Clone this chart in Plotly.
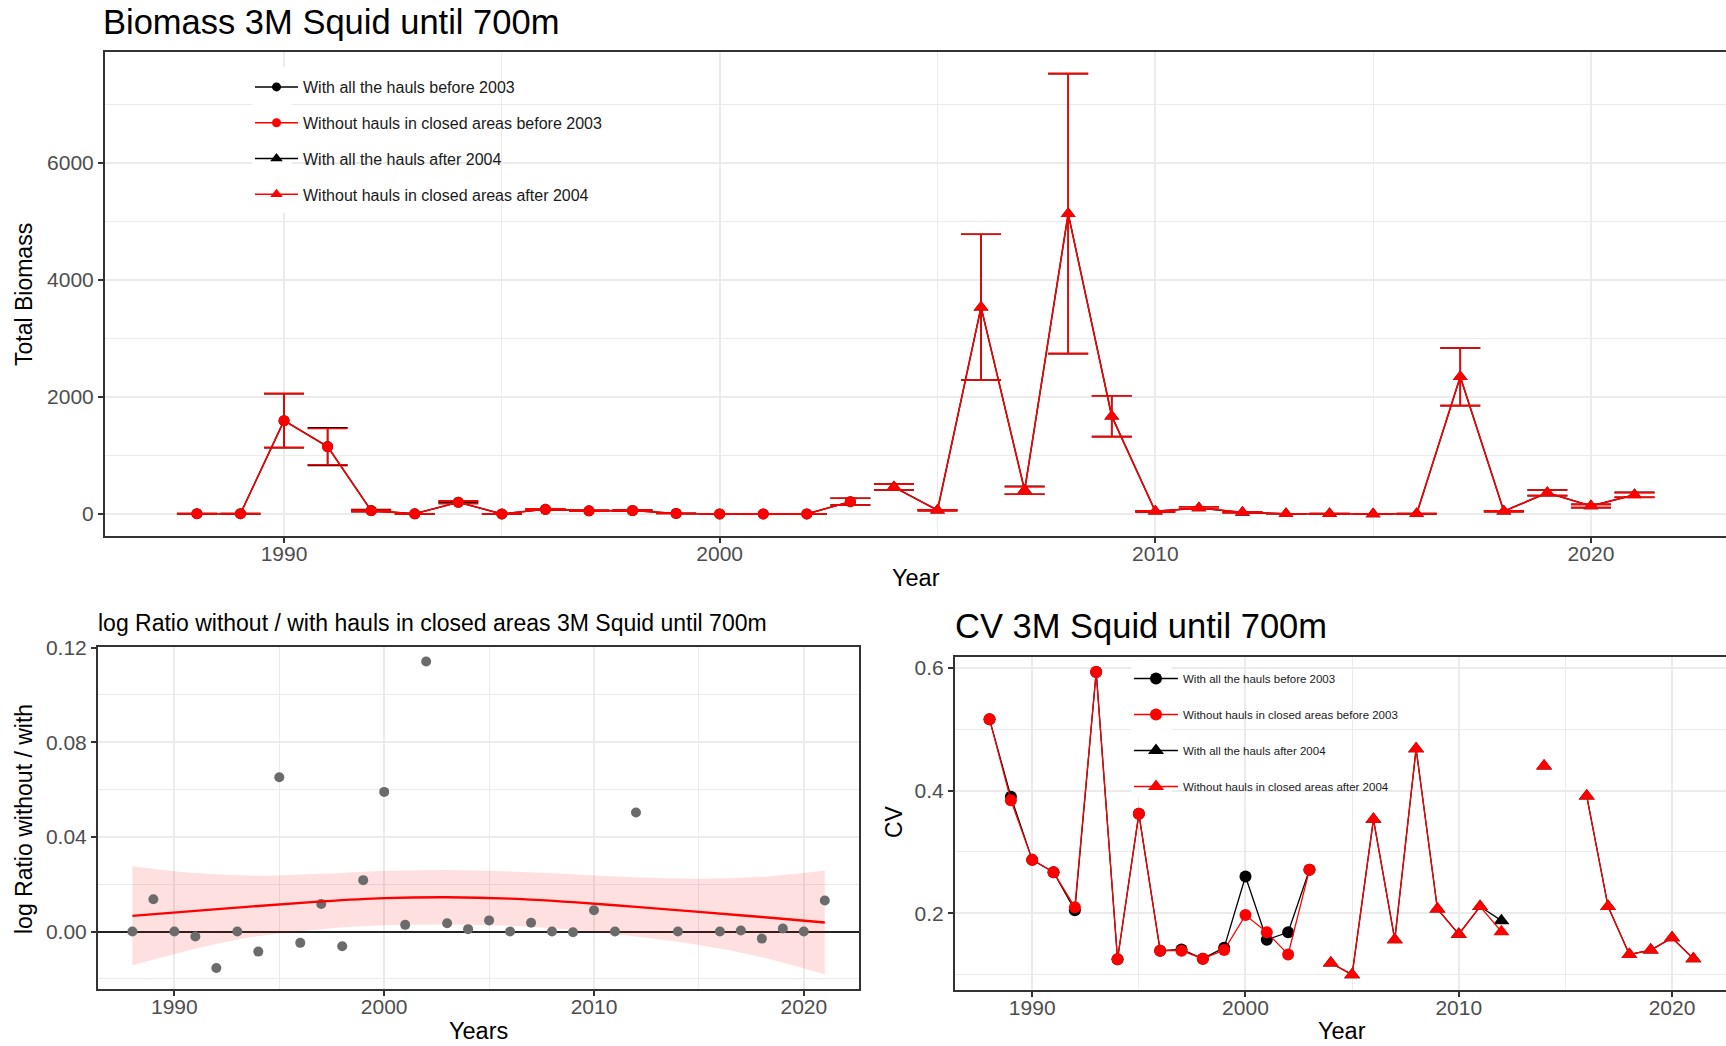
import plotly.graph_objects as go

W, H = 1726, 1046
FONT = "Liberation Sans, Arial, sans-serif"

# ---------------- data ----------------
years_pre = [1988, 1989, 1990, 1991, 1992, 1993, 1994, 1995, 1996, 1997, 1998, 1999, 2000, 2001, 2002, 2003]
years_post = [2004, 2005, 2006, 2007, 2008, 2009, 2010, 2011, 2012, 2013, 2014, 2015, 2016, 2017, 2018, 2019, 2020, 2021]

# Total biomass (without hauls in closed areas = red, with all hauls = black)
bio_without_pre = [5, 5, 1596, 1151, 57, 3, 200, 2, 80, 55, 60, 10, 2, 2, 2, 211]
err_without_pre = [3, 2, 462, 310, 12, 2, 25, 1, 11, 8, 8, 1, 0, 0, 0, 57]
bio_with_pre = [5, 5, 1596, 1153, 58, 3, 202, 2, 80, 55, 60, 10, 2, 2, 2, 211]
err_with_pre = [3, 2, 462, 322, 18, 2, 4, 1, 11, 8, 8, 1, 0, 0, 0, 57]

bio_without_post = [460, 65, 3536, 402, 5134, 1672, 45, 103, 28, 5, 5, 2, 5, 2345, 48, 362, 137, 325]
err_without_post = [50, 7, 1245, 65, 2393, 350, 8, 22, 5, 0, 2, 0, 2, 493, 8, 48, 28, 40]
bio_with_post = [460, 65, 3536, 405, 5134, 1672, 45, 103, 27, 5, 5, 2, 5, 2345, 48, 362, 137, 328]
err_with_post = [50, 7, 1245, 68, 2393, 350, 8, 22, 5, 0, 2, 0, 2, 493, 8, 48, 28, 42]

# CV
cv_without_pre = [0.516, 0.384, 0.287, 0.267, 0.210, 0.593, 0.125, 0.362, 0.139, 0.139, 0.126, 0.140, 0.197, 0.169, 0.133, 0.271]
cv_with_pre = [0.516, 0.390, 0.287, 0.267, 0.205, 0.593, 0.125, 0.362, 0.139, 0.141, 0.126, 0.144, 0.260, 0.157, 0.169, 0.271]
cv_without_post = [0.119, 0.100, 0.353, 0.157, 0.468, 0.207, 0.166, 0.211, 0.170, None, 0.440, None, 0.391, 0.211, 0.133, 0.140, 0.160, 0.126]
cv_with_post = [0.119, 0.100, 0.353, 0.157, 0.468, 0.207, 0.166, 0.211, 0.188, None, 0.440, None, 0.391, 0.211, 0.133, 0.140, 0.160, 0.126]

# log ratio without / with
ratio_years = [1988, 1989, 1990, 1991, 1992, 1993, 1994, 1995, 1996, 1997, 1998, 1999, 2000, 2001, 2002, 2003,
               2004, 2005, 2006, 2007, 2008, 2009, 2010, 2011, 2012, 2014, 2016, 2017, 2018, 2019, 2020, 2021]
ratio_values = [0.0000, 0.0136, 0.0000, -0.0021, -0.0154, 0.0000, -0.0085, 0.0652, -0.0048, 0.0116, -0.0062, 0.0217,
                0.0590, 0.0028, 0.1141, 0.0035, 0.0010, 0.0047, 0.0000, 0.0037, 0.0000, -0.0003, 0.0090, 0.0000,
                0.0503, 0.0000, 0.0000, 0.0004, -0.0030, 0.0013, 0.0000, 0.0131]

# smoother
smooth_years = [1988, 1991, 1994, 1997, 2000, 2003, 2006, 2009, 2012, 2015, 2018, 2021]
smooth_mid = [0.0066, 0.0087, 0.0108, 0.0127, 0.0141, 0.0145, 0.0139, 0.0124, 0.0104, 0.0083, 0.0061, 0.0038]
smooth_upper = [0.0276, 0.0247, 0.0236, 0.0244, 0.0256, 0.0260, 0.0254, 0.0242, 0.0229, 0.0223, 0.0231, 0.0258]
smooth_lower = [-0.0144, -0.0073, -0.0020, 0.0010, 0.0026, 0.0030, 0.0024, 0.0006, -0.0021, -0.0057, -0.0109, -0.0182]

legend_names = ["With all the hauls before 2003", "Without hauls in closed areas before 2003",
                "With all the hauls after 2004", "Without hauls in closed areas after 2004"]

BLACK = "#000000"
RED = "#FF0000"

fig = go.Figure()

# ---------------- legends (dummy entries) ----------------
leg_specs = [(BLACK, "circle"), (RED, "circle"), (BLACK, "triangle-up"), (RED, "triangle-up")]
for i, (name, (col, sym)) in enumerate(zip(legend_names, leg_specs)):
    fig.add_trace(go.Scatter(x=[None], y=[None], mode="lines+markers", name=name,
                             line=dict(color=col, width=1.5),
                             marker=dict(color=col, symbol=sym, size=9 if sym == "circle" else 11),
                             legend="legend", legendgroup=f"a{i}", xaxis="x", yaxis="y"))
for i, (name, (col, sym)) in enumerate(zip(legend_names, leg_specs)):
    fig.add_trace(go.Scatter(x=[None], y=[None], mode="lines+markers", name=name,
                             line=dict(color=col, width=1.5),
                             marker=dict(color=col, symbol=sym, size=12 if sym == "circle" else 14),
                             legend="legend2", legendgroup=f"b{i}", xaxis="x3", yaxis="y3"))

# ---------------- top panel: biomass ----------------
def bio_trace(xs, ys, es, col, sym, size):
    return go.Scatter(x=xs, y=ys, mode="lines+markers", showlegend=False,
                      line=dict(color=col, width=1.5),
                      marker=dict(color=col, symbol=sym, size=size),
                      error_y=dict(type="data", array=es, symmetric=True, color=col,
                                   thickness=1.6, width=20),
                      xaxis="x", yaxis="y")

fig.add_trace(bio_trace(years_pre, bio_with_pre, err_with_pre, BLACK, "circle", 11))
fig.add_trace(bio_trace(years_post, bio_with_post, err_with_post, BLACK, "triangle-up", 13))
fig.add_trace(bio_trace(years_pre, bio_without_pre, err_without_pre, RED, "circle", 11))
fig.add_trace(bio_trace(years_post, bio_without_post, err_without_post, RED, "triangle-up", 13))

# ---------------- bottom-left: log ratio ----------------
fig.add_trace(go.Scatter(x=smooth_years, y=smooth_upper, mode="lines", line=dict(width=0, shape="spline"),
                         showlegend=False, hoverinfo="skip", xaxis="x2", yaxis="y2"))
fig.add_trace(go.Scatter(x=smooth_years, y=smooth_lower, mode="lines", line=dict(width=0, shape="spline"),
                         fill="tonexty", fillcolor="rgba(255,0,0,0.12)",
                         showlegend=False, hoverinfo="skip", xaxis="x2", yaxis="y2"))
fig.add_trace(go.Scatter(x=ratio_years, y=ratio_values, mode="markers",
                         marker=dict(color="#6B6B6B", size=10), showlegend=False,
                         xaxis="x2", yaxis="y2"))
fig.add_trace(go.Scatter(x=smooth_years, y=smooth_mid, mode="lines",
                         line=dict(color=RED, width=2.4, shape="spline"), showlegend=False,
                         xaxis="x2", yaxis="y2"))

# ---------------- bottom-right: CV ----------------
def cv_trace(xs, ys, col, sym, size):
    return go.Scatter(x=xs, y=ys, mode="lines+markers", showlegend=False,
                      line=dict(color=col, width=1.3),
                      marker=dict(color=col, symbol=sym, size=size),
                      xaxis="x3", yaxis="y3")

fig.add_trace(cv_trace(years_pre, cv_with_pre, BLACK, "circle", 12))
fig.add_trace(cv_trace(years_post, cv_with_post, BLACK, "triangle-up", 14))
fig.add_trace(cv_trace(years_pre, cv_without_pre, RED, "circle", 12))
fig.add_trace(cv_trace(years_post, cv_without_post, RED, "triangle-up", 14))

# ---------------- axes ----------------
GRID = "#EBEBEB"
FRAME = "#333333"
TICKFONT = dict(size=21, color="#4D4D4D", family=FONT)


def xax(domain, rng, anchor):
    return dict(domain=domain, range=rng, anchor=anchor, tick0=1990, dtick=10,
                showgrid=True, gridcolor=GRID, gridwidth=2,
                minor=dict(tick0=1985, dtick=5, showgrid=True, gridcolor=GRID, gridwidth=1),
                showline=True, linecolor=FRAME, linewidth=2, mirror=True,
                ticks="outside", ticklen=5, tickwidth=2, tickcolor=FRAME,
                ticklabelstandoff=-7,
                tickfont=TICKFONT, zeroline=False, automargin=False)


def yax(domain, rng, anchor, tick0, dtick, mdtick, fmt, mirror, zeroline=False):
    return dict(domain=domain, range=rng, anchor=anchor, tick0=tick0, dtick=dtick, tickformat=fmt,
                showgrid=True, gridcolor=GRID, gridwidth=2,
                minor=dict(tick0=tick0, dtick=mdtick, showgrid=True, gridcolor=GRID, gridwidth=1),
                showline=True, linecolor=FRAME, linewidth=2, mirror=mirror,
                ticks="outside", ticklen=5, tickwidth=2, tickcolor=FRAME,
                tickfont=TICKFONT, zeroline=zeroline, zerolinecolor="#222222", zerolinewidth=1.6,
                automargin=False)


def py(p):
    return 1 - p / H


fig.update_layout(
    xaxis=xax([105 / W, 1.0], [1985.89, 2023.10], "y"),
    yaxis=yax([py(536), py(52)], [-376, 7897], "x", 0, 2000, 1000, "d", False),
    xaxis2=xax([98 / W, 859 / W], [1986.36, 2022.63], "y2"),
    yaxis2=yax([py(989), py(647.3)], [-0.0243, 0.1201], "x2", 0, 0.04, 0.02, ".2f", True, zeroline=True),
    xaxis3=xax([955 / W, 1.0], [1986.38, 2022.53], "y3"),
    yaxis3=yax([py(990), py(656.7)], [0.075, 0.618], "x3", 0, 0.2, 0.1, ".1f", False),
)

# white key backgrounds of the legends (no data lies underneath)
fig.add_shape(type="rect", xref="x", yref="y", x0=1989.27, x1=1990.18, y0=5145, y1=7641,
              fillcolor="white", line=dict(width=0), layer="above")
fig.add_shape(type="rect", xref="x3", yref="y3", x0=1994.66, x1=1996.54, y0=0.389, y1=0.616,
              fillcolor="white", line=dict(width=0), layer="above")

# ---------------- text ----------------
def ann(text, x, y, size, xanchor="center", angle=0, color="#000000"):
    fig.add_annotation(text=text, x=x / W, y=py(y), xref="paper", yref="paper",
                       xanchor=xanchor, yanchor="middle", showarrow=False, textangle=angle,
                       font=dict(size=size, color=color, family=FONT))

ann("Biomass 3M Squid until 700m", 101, 22, 34.5, xanchor="left")
ann("Total Biomass", 24, 295, 23, angle=-90)
ann("Year", 916, 578, 23.5)

ann("log Ratio without / with hauls in closed areas 3M Squid until 700m", 96, 623, 23, xanchor="left")
ann("log Ratio without / with", 24, 819, 23, angle=-90)
ann("Years", 479, 1031, 23.5)

ann("CV 3M Squid until 700m", 953, 626, 34.5, xanchor="left")
ann("CV", 894, 822, 23, angle=-90)
ann("Year", 1342, 1031, 23.5)

fig.update_layout(
    width=W, height=H, autosize=False,
    margin=dict(l=0, r=0, t=0, b=0, pad=0),
    paper_bgcolor="white", plot_bgcolor="white",
    font=dict(family=FONT, color="#000000"),
    legend=dict(x=250 / W, y=py(70), xanchor="left", yanchor="top",
                bgcolor="rgba(0,0,0,0)", borderwidth=0,
                font=dict(size=16, color="#1A1A1A", family=FONT),
                traceorder="grouped", tracegroupgap=12, itemwidth=43),
    legend2=dict(x=1129 / W, y=py(664), xanchor="left", yanchor="top",
                 bgcolor="rgba(0,0,0,0)", borderwidth=0,
                 font=dict(size=11.5, color="#1A1A1A", family=FONT),
                 traceorder="grouped", tracegroupgap=17, itemwidth=44),
)

fig.write_html("out.html", config={"displayModeBar": False},
               post_script="document.body.style.margin='0px';")
